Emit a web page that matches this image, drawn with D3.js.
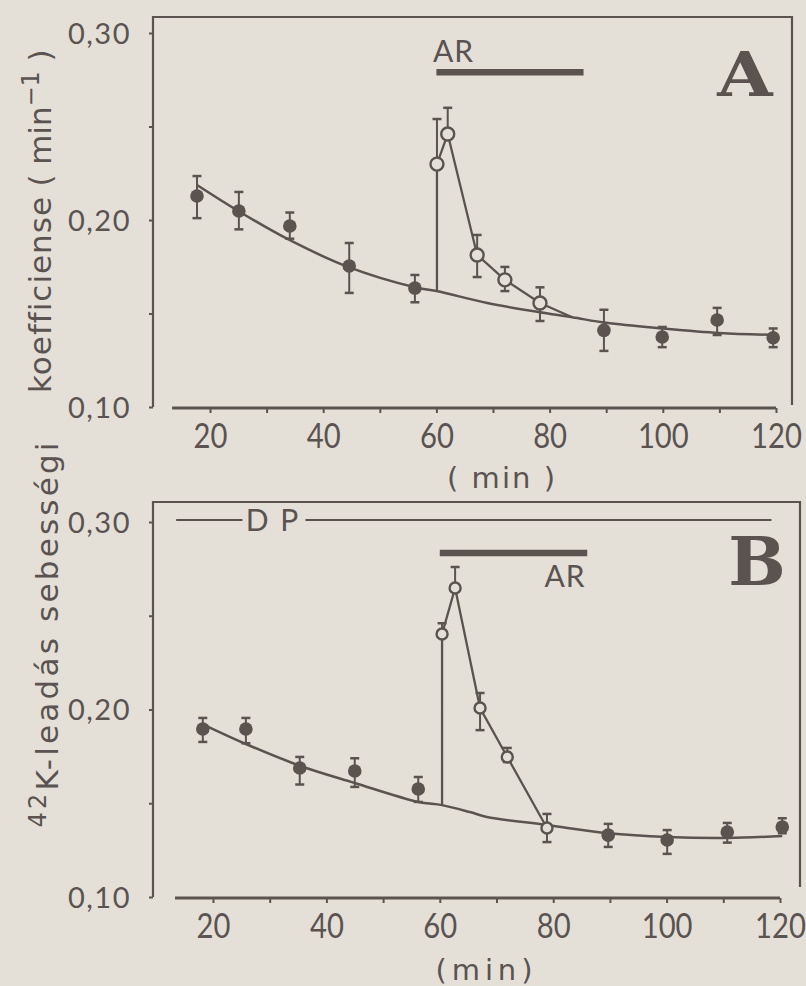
<!DOCTYPE html>
<html><head><meta charset="utf-8">
<script src="https://cdn.jsdelivr.net/npm/d3@7"></script>
<style>body{margin:0;background:#e4e0d8} text{font-variant-ligatures:none}</style>
</head><body><svg id="c" width="806" height="986"></svg>
<script>
// ---------- shared axis data ----------
const xTicks = [20,30,40,50,60,70,80,90,100,110,120];
const xLabels = [20,40,60,80,100,120];
const yTicks = [0.10,0.15,0.20,0.25,0.30];
const yLabels = [0.10,0.20,0.30];

// ---------- panel A ----------
const aFilledX  = [17.7,25.1,34.1,44.6,56.2,89.6,99.9,109.6,119.5];
const aFilledY  = [0.2128,0.2048,0.1968,0.1754,0.1636,0.141,0.1374,0.1465,0.137];
const aFilledHi = [0.2235,0.215,0.204,0.1877,0.1706,0.152,0.1428,0.153,0.142];
const aFilledLo = [0.201,0.195,0.190,0.161,0.156,0.130,0.132,0.1385,0.132];
const aOpenX  = [60.1,62.0,67.2,72.1,78.3];
const aOpenY  = [0.2299,0.246,0.1813,0.168,0.1556];
const aOpenHi = [0.254,0.260,0.192,0.1749,0.164];
const aOpenLo = [0.2299,0.246,0.1695,0.162,0.146];
const aCurveX = [17.7,25,33.6,44.4,56.2,60,69,78,84,90,100,110,120];
const aCurveY = [0.2187,0.2048,0.190,0.1749,0.164,0.162,0.1556,0.1508,0.148,0.145,0.142,0.1396,0.1385];
const aPathX = [60.1,60.1,62.0,67.2,72.1,78.3,84];
const aPathY = [0.162,0.2299,0.246,0.1813,0.168,0.1556,0.148];
const aAR = [60,86];

// ---------- panel B ----------
const bFilledX  = [18.2,25.8,35.3,45,56.2,89.7,100.1,110.7,120.4];
const bFilledY  = [0.1896,0.1896,0.1688,0.1672,0.1576,0.133,0.1304,0.1347,0.1373];
const bFilledHi = [0.1955,0.1955,0.1747,0.174,0.164,0.139,0.1357,0.1395,0.142];
const bFilledLo = [0.1827,0.182,0.160,0.1587,0.1507,0.1267,0.123,0.129,0.134];
const bOpenX  = [60.4,62.7,67.1,71.9,78.9];
const bOpenY  = [0.2403,0.2648,0.2008,0.1747,0.1368];
const bOpenHi = [0.246,0.276,0.2088,0.1795,0.1443];
const bOpenLo = [0.2403,0.2648,0.189,0.172,0.1293];
const bCurveX = [18.5,25.8,35.3,45,56.2,60.4,65.3,68.3,78.9,89.7,100.1,110.7,120.4];
const bCurveY = [0.1917,0.1816,0.170,0.1608,0.1507,0.149,0.1453,0.1427,0.1384,0.134,0.132,0.1315,0.1325];
const bPathX = [60.4,60.4,62.7,67.1,71.9,78.9];
const bPathY = [0.149,0.2403,0.2648,0.2008,0.1747,0.1368];
const bAR = [60,86];
const bDP = [[13.5,25.2],[36.3,118.5]];

// ---------- drawing ----------
const INK = "#5a5350", BG = "#e4e0d8";
const FONT = "Lato, 'DejaVu Sans', sans-serif";
const WIDE = "'DejaVu Sans', sans-serif";
const FW = 400;
const svg = d3.select("#c");
svg.append("rect").attr("width",806).attr("height",986).attr("fill",BG);

const fmt = d => d3.format(".2f")(d).replace(".", ",");

function panel(cfg){
  const x = d3.scaleLinear().domain([20,120]).range(cfg.xr);
  const y = d3.scaleLinear().domain([0.10,0.30]).range(cfg.yr);
  const g = svg.append("g");

  g.append("path")
   .attr("d", `M${cfg.left},${y(0.10)}V${cfg.top}H${cfg.right}V${cfg.rightBottom}`)
   .attr("fill","none").attr("stroke",INK).attr("stroke-width",2.2);

  const ya = g.append("g").attr("transform",`translate(${cfg.left},0)`)
    .call(d3.axisLeft(y).tickValues(yTicks).tickSize(4)
      .tickFormat(d => yLabels.some(v=>Math.abs(v-d)<1e-9) ? fmt(d) : ""));
  ya.select(".domain").remove();
  ya.selectAll("line").attr("stroke",INK).attr("stroke-width",2);
  ya.selectAll("text").attr("fill",INK).attr("font-family",FONT).attr("font-size",29)
    .attr("font-weight",FW).attr("x",-22).attr("dy","0.36em").attr("letter-spacing",1.5);

  const xa = g.append("g").attr("transform",`translate(0,${y(0.10)+1})`)
    .call(d3.axisBottom(x).tickValues(xTicks).tickSize(5)
      .tickFormat(d => xLabels.includes(d) ? d : ""));
  xa.select(".domain").remove();
  xa.append("line").attr("x1",x(13.3)).attr("x2",x(120)).attr("stroke",INK).attr("stroke-width",2.8);
  xa.selectAll(".tick line").attr("stroke",INK).attr("stroke-width",2);
  xa.selectAll("text").attr("fill",INK).attr("font-family",FONT).attr("font-size",34)
    .attr("font-weight",FW).attr("x",0).attr("y",16).attr("transform","scale(0.86,1)");

  g.append("text").attr("x",cfg.minX).attr("y",cfg.minY).attr("text-anchor","middle")
   .attr("fill",INK).attr("font-family",WIDE).attr("font-size",29).attr("font-weight",FW)
   .attr("textLength",cfg.minLen).attr("lengthAdjust","spacing").text(cfg.minText);

  const line = d3.line().x(d=>x(d[0])).y(d=>y(d[1]));
  g.append("path").datum(d3.zip(cfg.curveX,cfg.curveY))
   .attr("d", line.curve(d3.curveCatmullRom.alpha(0.5)))
   .attr("fill","none").attr("stroke",INK).attr("stroke-width",2.5);

  g.append("path")
   .attr("d", d3.line().x(d=>x(d[0])).y(d=>y(d[1]))(d3.zip(cfg.pathX,cfg.pathY)))
   .attr("fill","none").attr("stroke",INK).attr("stroke-width",2.3);

  function errs(X,Y,Hi,Lo){
    X.forEach((xv,i)=>{
      [Hi[i],Lo[i]].forEach(e=>{
        if (e==null || Math.abs(e-Y[i])<1e-9) return;
        g.append("line").attr("x1",x(xv)).attr("x2",x(xv)).attr("y1",y(Y[i])).attr("y2",y(e))
          .attr("stroke",INK).attr("stroke-width",2);
        g.append("line").attr("x1",x(xv)-4.5).attr("x2",x(xv)+4.5).attr("y1",y(e)).attr("y2",y(e))
          .attr("stroke",INK).attr("stroke-width",2.5);
      });
    });
  }
  errs(cfg.fX,cfg.fY,cfg.fHi,cfg.fLo);
  errs(cfg.oX,cfg.oY,cfg.oHi,cfg.oLo);

  g.selectAll(".fdot").data(d3.zip(cfg.fX,cfg.fY)).join("circle")
   .attr("cx",d=>x(d[0])).attr("cy",d=>y(d[1])).attr("r",6.8).attr("fill",INK);
  g.selectAll(".odot").data(d3.zip(cfg.oX,cfg.oY)).join("circle")
   .attr("cx",d=>x(d[0])).attr("cy",d=>y(d[1])).attr("r",cfg.oR)
   .attr("fill",BG).attr("stroke",INK).attr("stroke-width",2.4);

  g.append("line").attr("x1",x(cfg.ar[0])).attr("x2",x(cfg.ar[1]))
   .attr("y1",y(cfg.arY)).attr("y2",y(cfg.arY)).attr("stroke",INK).attr("stroke-width",6.5);
  g.append("text").attr("x",x(cfg.arTextX)).attr("y",y(cfg.arTextY)).attr("text-anchor",cfg.arAnchor)
   .attr("fill",INK).attr("font-family",FONT).attr("font-size",30).attr("font-weight",FW)
   .attr("letter-spacing",1).text("AR");

  g.append("text").attr("transform",`translate(${cfg.letterX},${cfg.letterY}) scale(${cfg.letterSX},1)`)
   .attr("text-anchor","middle").attr("fill",INK)
   .attr("font-family","'DejaVu Serif', serif").attr("font-weight","bold").attr("font-size",cfg.letterFS)
   .text(cfg.letter);

  return {x,y,g};
}

panel({xr:[210,776], yr:[407,33], left:153, top:17, right:792, rightBottom:405,
  minX:501, minY:488, minText:"( min )", minLen:108,
  curveX:aCurveX, curveY:aCurveY, pathX:aPathX, pathY:aPathY,
  fX:aFilledX,fY:aFilledY,fHi:aFilledHi,fLo:aFilledLo,
  oX:aOpenX,oY:aOpenY,oHi:aOpenHi,oLo:aOpenLo, oR:6.5,
  ar:aAR, arY:0.279, arTextX:59.4, arTextY:0.2846, arAnchor:"start",
  letter:"A", letterX:745, letterY:96, letterFS:62, letterSX:1.15});

const B = panel({xr:[213,780], yr:[897,522], left:153, top:502, right:800, rightBottom:887,
  minX:484, minY:980, minText:"(min)", minLen:97,
  curveX:bCurveX, curveY:bCurveY, pathX:bPathX, pathY:bPathY,
  fX:bFilledX,fY:bFilledY,fHi:bFilledHi,fLo:bFilledLo,
  oX:bOpenX,oY:bOpenY,oHi:bOpenHi,oLo:bOpenLo, oR:5.5,
  ar:bAR, arY:0.2835, arTextX:85.7, arTextY:0.2653, arAnchor:"end",
  letter:"B", letterX:757, letterY:585, letterFS:68, letterSX:1.0});

bDP.forEach(seg=>{
  B.g.append("line").attr("x1",B.x(seg[0])).attr("x2",B.x(seg[1]))
   .attr("y1",B.y(0.3011)).attr("y2",B.y(0.3011)).attr("stroke",INK).attr("stroke-width",2);
});
B.g.append("text").attr("x",B.x(30.6)).attr("y",B.y(0.3011)+11).attr("text-anchor","middle")
  .attr("fill",INK).attr("font-family",FONT).attr("font-size",30).attr("font-weight",FW)
  .attr("letter-spacing",2).text("D P");

// shared y-axis title, in pieces placed along the left margin
function ylab(xb, yc, len, parts){
  const t = svg.append("text").attr("transform",`translate(${xb},${yc}) rotate(-90)`)
    .attr("text-anchor","middle").attr("fill",INK).attr("font-family",WIDE)
    .attr("font-size",31).attr("font-weight",FW)
    .attr("textLength",len).attr("lengthAdjust","spacing");
  parts.forEach(p=>{
    const s = t.append("tspan").text(p.t);
    if (p.sup) s.attr("font-size",24).attr("dy",-12); else if (p.back) s.attr("dy",12);
  });
}
ylab(51, 118, 137, [{t:"( min"},{t:"−1",sup:true},{t:" )",back:true}]);
ylab(51, 295, 196, [{t:"koefficiense"}]);
ylab(58, 635, 385, [{t:"42",sup:true},{t:"K-leadás sebességi",back:true}]);
</script></body></html>
